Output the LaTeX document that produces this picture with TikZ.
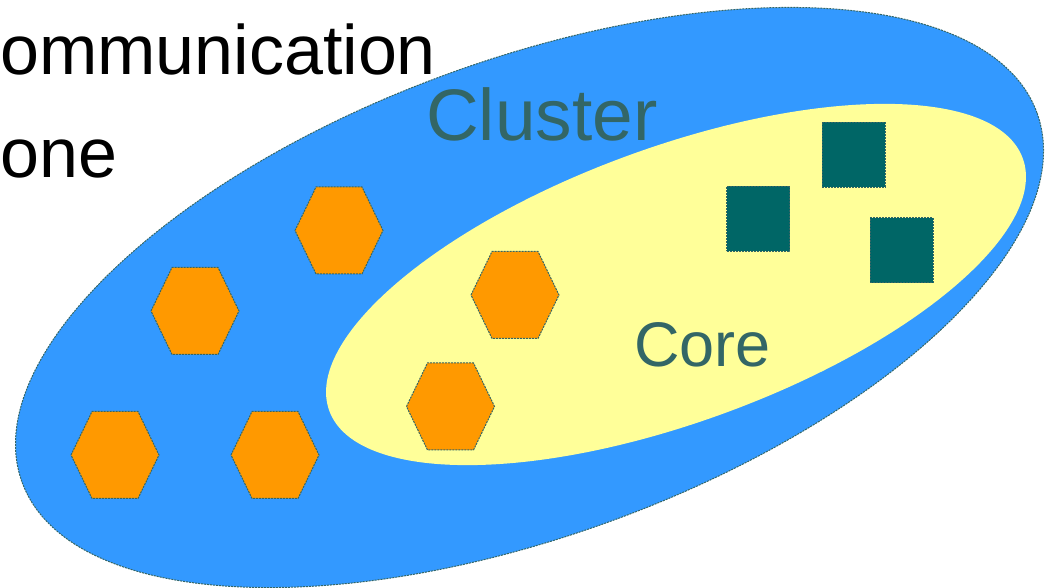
\documentclass[tikz,border=0pt]{standalone}
\usepackage{fontspec}
\setmainfont{Liberation Sans}
\usepackage{tikz}
\usetikzlibrary{positioning}

\definecolor{clusterblue}{HTML}{3399FF}
\definecolor{coreyellow}{HTML}{FFFF99}
\definecolor{peerorange}{HTML}{FF9900}
\definecolor{nodeteal}{HTML}{006666}
\definecolor{labelteal}{HTML}{336666}

\tikzset{
  outline/.style={draw=labelteal, line width=1pt, dash pattern=on 2pt off 1pt},
  hexcell/.pic={
    \path[fill=peerorange, outline] (-44,0) -- (-23,43.5) -- (23,43.5)
      -- (44,0) -- (23,-43.5) -- (-23,-43.5) -- cycle;
  },
  corebox/.style={rectangle, fill=nodeteal, outline, inner sep=0pt,
    minimum width=63pt, minimum height=65pt},
  biglabel/.style={anchor=base west, inner sep=0pt},
}

\begin{document}
\begin{tikzpicture}[x=1pt, y=1pt]
        \clip (0,0) rectangle (1052,588);
        \coordinate (C) at (529.5,290.5);
        \coordinate (K) at (676,303.5);
        % cluster and core regions
        \path[fill=clusterblue, outline] (C) ellipse [x radius=540, y radius=238, rotate=20];
        \fill[coreyellow] (K) ellipse [x radius=369, y radius=137.5, rotate=20];
        \node[biglabel, text=labelteal, font=\fontsize{73}{88}\selectfont] (cluster) at (426,447) {Cluster};
        \node[biglabel, text=labelteal, font=\fontsize{63}{76}\selectfont] (core) at (634,221) {Core};
        % peers
        \foreach \hx/\hy in {339/357.5, 195/277, 515/293, 450.5/181.5, 115/133, 275/133}
          \pic at (\hx,\hy) {hexcell};
        % core nodes
        \node[corebox] (s1) at (758,369) {};
        \node[corebox] (s2) at (853.5,433) {};
        \node[corebox] (s3) at (901.5,337.5) {};
        % zone caption
        \node[biglabel, font=\fontsize{70}{84}\selectfont] (zone1) at (0,513) {ommunication};
        \node[biglabel, font=\fontsize{70}{84}\selectfont] (zone2) at (0,410) {one};
    \end{tikzpicture}
\end{document}
